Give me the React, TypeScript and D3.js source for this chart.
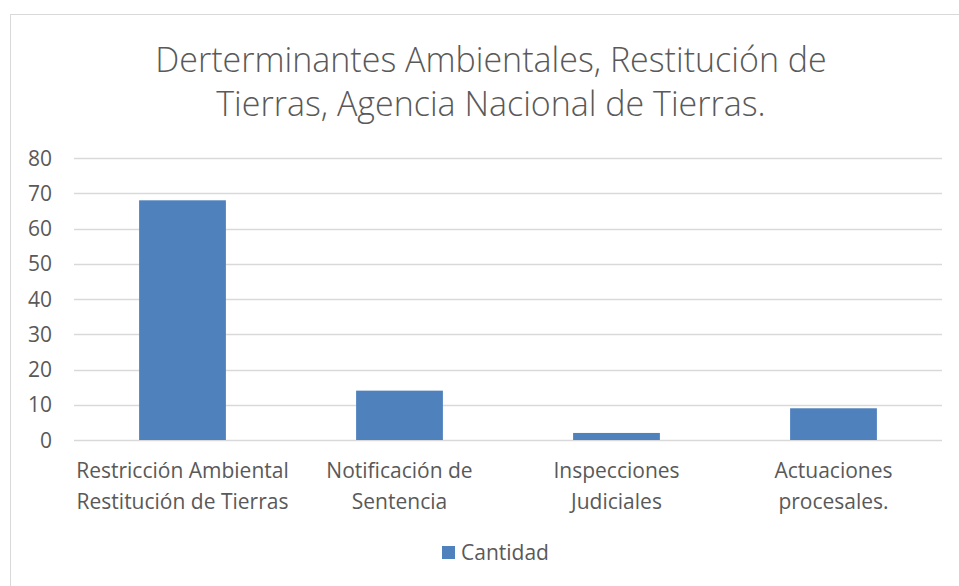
import {useEffect, useRef} from "react";
import * as d3 from "d3";

const categories = [
    ["Restricción Ambiental", "Restitución de Tierras"],
    ["Notificación de", "Sentencia"],
    ["Inspecciones", "Judiciales"],
    ["Actuaciones", "procesales."],
];
const cantidad = [68, 14, 2, 9];
const yTicks = [0, 10, 20, 30, 40, 50, 60, 70, 80];
const titleLines = ["Derterminantes Ambientales, Restitución de", "Tierras, Agencia Nacional de Tierras."];
const seriesName = "Cantidad";

const W = 959, H = 586;
const FONT = "'Open Sans', sans-serif";

export default function App() {
    const ref = useRef<SVGSVGElement>(null);

    useEffect(() => {
        const svg = d3.select(ref.current);
        svg.selectAll("*").remove();

        // chart frame
        svg.append("rect").attr("x", 10.5).attr("y", 14.5).attr("width", 960).attr("height", 600)
            .attr("fill", "#fff").attr("stroke", "#d9d9d9");

        const left = 74, right = 942, top = 158, bottom = 440;
        const x = d3.scaleBand().domain(categories.map((_, i) => String(i))).range([left, right]);
        const y = d3.scaleLinear().domain([0, 80]).range([bottom, top]);

        const title = svg.append("text").attr("text-anchor", "middle").attr("fill", "#595959")
            .style("font-family", FONT).style("font-size", "34px").style("font-weight", 300);
        titleLines.forEach((t, i) => {
            title.append("tspan").attr("x", 491).attr("y", 72 + i * 44).text(t);
        });

        svg.append("g").selectAll("line").data(yTicks).enter().append("line")
            .attr("x1", left).attr("x2", right)
            .attr("y1", d => Math.round(y(d)) + 0.5).attr("y2", d => Math.round(y(d)) + 0.5)
            .attr("stroke", "#d9d9d9").attr("stroke-width", 1.5);

        svg.append("g").selectAll("text").data(yTicks).enter().append("text")
            .attr("x", 52).attr("y", d => y(d) + 7.5).attr("text-anchor", "end")
            .attr("fill", "#595959").style("font-family", FONT).style("font-size", "21px")
            .text(d => d);

        const bw = x.bandwidth() * 0.4;
        svg.append("g").selectAll("rect").data(cantidad).enter().append("rect")
            .attr("x", (_, i) => x(String(i))! + (x.bandwidth() - bw) / 2)
            .attr("y", d => y(d)).attr("width", bw).attr("height", d => bottom - y(d))
            .attr("fill", "#4f81bd");

        const lab = svg.append("g").selectAll("text").data(categories).enter().append("text")
            .attr("text-anchor", "middle").attr("fill", "#595959")
            .style("font-family", FONT).style("font-size", "21px");
        lab.each(function (d, i) {
            d.forEach((t, j) => {
                d3.select(this).append("tspan")
                    .attr("x", x(String(i))! + x.bandwidth() / 2).attr("y", 478 + j * 31).text(t);
            });
        });

        svg.append("rect").attr("x", 442).attr("y", 546).attr("width", 13).attr("height", 13).attr("fill", "#4f81bd");
        svg.append("text").attr("x", 461).attr("y", 560).attr("fill", "#595959")
            .style("font-family", FONT).style("font-size", "21px").text(seriesName);
    }, []);

    return <svg ref={ref} width={W} height={H} style={{position: "absolute", left: 0, top: 0}}/>;
}
